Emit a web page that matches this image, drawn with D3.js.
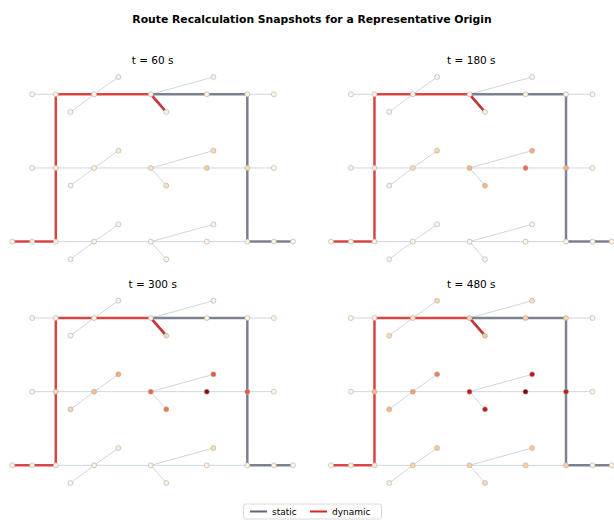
<!DOCTYPE html>
<html>
<head>
<meta charset="utf-8">
<script src="https://cdn.jsdelivr.net/npm/d3@7"></script>
<style>
  body { margin: 0; background: #fff; }
  text { font-family: "DejaVu Sans", sans-serif; }
</style>
</head>
<body>
<script>
// network layout (map units)
var nodeIds = ["a0","a1","a2","a3","a4","a5","a6","a2u","a2d","a3u","a3d",
               "b0","b1","b2","b3","b4","b5","b6","b2u","b2d","b3u","b3d",
               "c0","c1","c2","c3","c4","c5","c6","c2u","c2d","c3u","c3d",
               "cL","cR"];
var nodeX = [0.27,0.59,1.11,1.88,2.64,3.19,3.55,1.44,0.79,2.73,2.09,
             0.27,0.59,1.11,1.88,2.64,3.19,3.55,1.44,0.79,2.73,2.09,
             0.27,0.59,1.11,1.88,2.64,3.19,3.55,1.44,0.79,2.73,2.09,
             0,3.81];
var nodeY = [0,0,0,0,0,0,0,-0.235,0.24,-0.235,0.24,
             1,1,1,1,1,1,1,0.765,1.24,0.765,1.24,
             2,2,2,2,2,2,2,1.765,2.24,1.765,2.24,
             2,2];

var edges = [
  ["a0","a1"],["a1","a2"],["a2","a3"],["a3","a4"],["a4","a5"],["a5","a6"],
  ["a2","a2u"],["a2","a2d"],["a3","a3u"],["a3","a3d"],
  ["b0","b1"],["b1","b2"],["b2","b3"],["b3","b4"],["b4","b5"],["b5","b6"],
  ["b2","b2u"],["b2","b2d"],["b3","b3u"],["b3","b3d"],
  ["c0","c1"],["c1","c2"],["c2","c3"],["c3","c4"],["c4","c5"],["c5","c6"],
  ["c2","c2u"],["c2","c2d"],["c3","c3u"],["c3","c3d"],
  ["cL","c0"],["c6","cR"],
  ["a1","b1"],["b1","c1"],["a5","b5"],["b5","c5"]
];

var staticRoute  = ["cR","c6","c5","b5","a5","a4","a3","a3d"];
var dynamicRoute = ["cL","c0","c1","b1","a1","a2","a3","a3d"];

var times = [60, 180, 300, 480];

// congestion level per node, same order as nodeIds
var load60 = [0.01,0.03,0.03,0.03,0.03,0.03,0.01,0.03,0.03,0.03,0.04,
              0.01,0.06,0.06,0.13,0.27,0.2,0.01,0.11,0.04,0.2,0.16,
              0.02,0.03,0.03,0.03,0.03,0.03,0.02,0.03,0.02,0.03,0.02,
              0.01,0.01];
var load180 = [0.01,0.02,0.03,0.03,0.03,0.03,0.01,0.03,0.02,0.03,0.05,
               0.02,0.04,0.2,0.38,0.6,0.4,0.02,0.22,0.04,0.42,0.38,
               0.02,0.03,0.03,0.03,0.03,0.03,0.02,0.03,0.02,0.03,0.02,
               0.01,0.01];
var load300 = [0.01,0.03,0.04,0.06,0.04,0.04,0.01,0.03,0.03,0.03,0.22,
               0.02,0.2,0.36,0.62,0.95,0.65,0.02,0.42,0.24,0.65,0.58,
               0.02,0.03,0.04,0.04,0.04,0.04,0.02,0.08,0.02,0.2,0.03,
               0.01,0.01];
var load480 = [0.02,0.06,0.17,0.25,0.27,0.24,0.02,0.2,0.2,0.18,0.3,
               0.02,0.35,0.45,0.82,1.0,0.82,0.02,0.55,0.38,0.82,0.82,
               0.03,0.08,0.24,0.25,0.27,0.25,0.03,0.3,0.04,0.3,0.2,
               0.01,0.01];
var loads = [load60, load180, load300, load480];

var seriesNames = ["static", "dynamic"];
var seriesColors = ["#5f6777", "#d62728"];

var W = 614, H = 520;
var svg = d3.select("body").append("svg").attr("width", W).attr("height", H);

svg.append("text")
  .attr("x", 312).attr("y", 23)
  .attr("text-anchor", "middle")
  .attr("font-size", "10.8px").attr("font-weight", "bold")
  .text("Route Recalculation Snapshots for a Representative Origin");

var idx = {};
nodeIds.forEach(function(id, i) { idx[id] = i; });

var color = d3.scaleSequential(d3.interpolateOrRd).domain([0, 1]);

var line = d3.line();

times.forEach(function(t, p) {
  var col = p % 2, row = Math.floor(p / 2);
  var dx = col * 318.7, dy = row * 223.7;
  var x = d3.scaleLinear().domain([0, 3.81]).range([12.3 + dx, 293 + dx]);
  var y = d3.scaleLinear().domain([-0.235, 2.24]).range([77 + dy, 259.3 + dy]);
  var g = svg.append("g");

  g.append("text")
    .attr("x", (x.range()[0] + x.range()[1]) / 2)
    .attr("y", 64 + dy)
    .attr("text-anchor", "middle")
    .attr("font-size", "10.5px")
    .text("t = " + t + " s");

  g.selectAll("line.edge").data(edges).enter().append("line")
    .attr("class", "edge")
    .attr("x1", function(e) { return x(nodeX[idx[e[0]]]); })
    .attr("y1", function(e) { return y(nodeY[idx[e[0]]]); })
    .attr("x2", function(e) { return x(nodeX[idx[e[1]]]); })
    .attr("y2", function(e) { return y(nodeY[idx[e[1]]]); })
    .attr("stroke", "#cfd6e1")
    .attr("stroke-width", 1);

  [staticRoute, dynamicRoute].forEach(function(route, k) {
    g.append("path")
      .attr("d", line(route.map(function(id) {
        return [x(nodeX[idx[id]]), y(nodeY[idx[id]])];
      })))
      .attr("fill", "none")
      .attr("stroke", seriesColors[k])
      .attr("stroke-opacity", k == 0 ? 0.8 : 0.85)
      .attr("stroke-width", 2.5);
  });

  g.selectAll("circle").data(nodeIds).enter().append("circle")
    .attr("cx", function(d, i) { return x(nodeX[i]); })
    .attr("cy", function(d, i) { return y(nodeY[i]); })
    .attr("r", 2.5)
    .attr("fill", function(d, i) { return color(loads[p][i]); })
    .attr("stroke", "#b0aaa6")
    .attr("stroke-width", 0.6);
});

// legend
var lg = svg.append("g");
lg.append("rect")
  .attr("x", 243.5).attr("y", 504).attr("width", 138).attr("height", 15)
  .attr("rx", 2)
  .attr("fill", "#fff").attr("stroke", "#d0d0d0").attr("stroke-width", 0.8);
var legX = [250, 310];
seriesNames.forEach(function(name, k) {
  lg.append("line")
    .attr("x1", legX[k]).attr("x2", legX[k] + 17)
    .attr("y1", 511.5).attr("y2", 511.5)
    .attr("stroke", seriesColors[k]).attr("stroke-width", 2);
  lg.append("text")
    .attr("x", legX[k] + 22).attr("y", 514.5)
    .attr("font-size", "9px")
    .text(name);
});
</script>
</body>
</html>
